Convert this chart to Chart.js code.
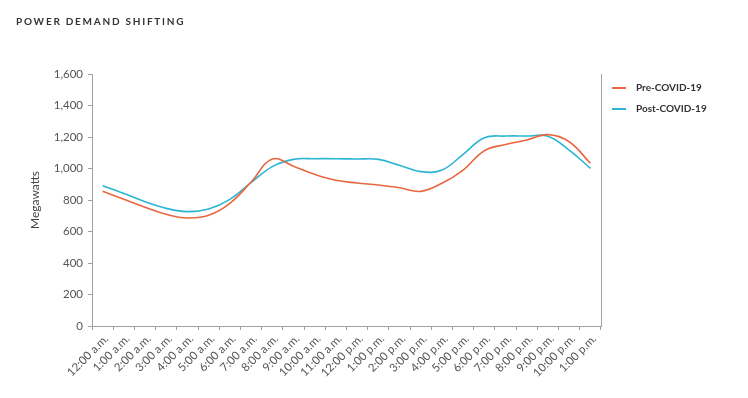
<!DOCTYPE html>
<html>
<head>
<meta charset="utf-8">
<script src="https://cdn.jsdelivr.net/npm/chart.js@4.4.0/dist/chart.umd.min.js"></script>
<style>
    html, body { margin: 0; padding: 0; background: #fff; }
    #wrap { position: relative; width: 748px; height: 398px; }
    #title {
        position: absolute; left: 16px; top: 15px;
        font: bold 10px Lato, sans-serif; letter-spacing: 1.75px; color: #333;
    }
    #legend { position: absolute; left: 612px; top: 81px; font: bold 10px Lato, sans-serif; color: #333; }
    .item { height: 21px; display: flex; align-items: flex-start; }
    .swatch { width: 14px; height: 2px; margin: 6px 10px 0 0; }
</style>
</head>
<body>
<div id="wrap">
    <div id="title">POWER DEMAND SHIFTING</div>
    <canvas id="demandChart" width="748" height="398"></canvas>
    <div id="legend"></div>
</div>
<script>
const hours = ['12:00 a.m.', '1:00 a.m.', '2:00 a.m.', '3:00 a.m.', '4:00 a.m.', '5:00 a.m.',
    '6:00 a.m.', '7:00 a.m.', '8:00 a.m.', '9:00 a.m.', '10:00 a.m.', '11:00 a.m.',
    '12:00 p.m.', '1:00 p.m.', '2:00 p.m.', '3:00 p.m.', '4:00 p.m.', '5:00 p.m.',
    '6:00 p.m.', '7:00 p.m.', '8:00 p.m.', '9:00 p.m.', '10:00 p.m.', '1:00 p.m.'];
const preCovid = [855, 804, 754, 709, 686, 703, 779, 914, 1060, 1015, 963, 925,
    908, 895, 878, 855, 906, 990, 1113, 1153, 1181, 1215, 1170, 1033];
const postCovid = [891, 842, 789, 747, 726, 743, 804, 910, 1012, 1058, 1062, 1062,
    1060, 1058, 1020, 980, 990, 1090, 1195, 1206, 1206, 1205, 1117, 1001];
const yTicks = [0, 200, 400, 600, 800, 1000, 1200, 1400, 1600];

const ORANGE = '#e8673f';
const BLUE = '#2bb5d3';
const AXIS = '#a0a0a0';

const datasets = [
    { label: 'Pre-COVID-19', data: preCovid, borderColor: ORANGE },
    { label: 'Post-COVID-19', data: postCovid, borderColor: BLUE }
].map(d => Object.assign(d, {
    backgroundColor: d.borderColor,
    borderWidth: 1.6,
    pointRadius: 0,
    tension: 0.4,
    fill: false
}));

const ctx = document.getElementById('demandChart').getContext('2d');
new Chart(ctx, {
    type: 'line',
    data: { labels: hours, datasets: datasets },
    options: {
        responsive: false,
        animation: false,
        layout: { padding: { top: 74, right: 147, bottom: 0, left: 0 } },
        plugins: { legend: { display: false }, tooltip: { enabled: false } },
        scales: {
            x: {
                offset: true,
                grid: { offset: true, drawOnChartArea: false, tickLength: 4, color: AXIS },
                border: { color: AXIS },
                ticks: {
                    autoSkip: false, minRotation: 45, maxRotation: 45, padding: 2, labelOffset: 4,
                    color: '#555', font: { family: 'Lato', size: 11.5 }
                },
                afterFit: scale => { scale.height = 72; }
            },
            y: {
                min: 0, max: 1600,
                afterBuildTicks: scale => { scale.ticks = yTicks.map(v => ({ value: v })); },
                grid: { drawOnChartArea: false, tickLength: 4, color: AXIS },
                border: { color: AXIS },
                ticks: {
                    padding: 5, color: '#555', font: { family: 'Lato', size: 11.5 },
                    callback: v => v.toLocaleString('en-US')
                },
                title: {
                    display: true, text: 'Megawatts', color: '#444',
                    font: { family: 'Lato', size: 12 }, padding: { top: 28, bottom: 0 }
                },
                afterFit: scale => { scale.width = 92; }
            },
            yRight: {
                position: 'right', min: 0, max: 1600,
                grid: { display: false },
                ticks: { display: false },
                border: { display: true, color: AXIS },
                afterFit: scale => { scale.width = 0; }
            }
        }
    }
});

const legend = document.getElementById('legend');
datasets.forEach(d => {
    const item = document.createElement('div');
    item.className = 'item';
    item.innerHTML = `<span class="swatch" style="background:${d.borderColor}"></span>${d.label}`;
    legend.appendChild(item);
});
</script>
</body>
</html>
